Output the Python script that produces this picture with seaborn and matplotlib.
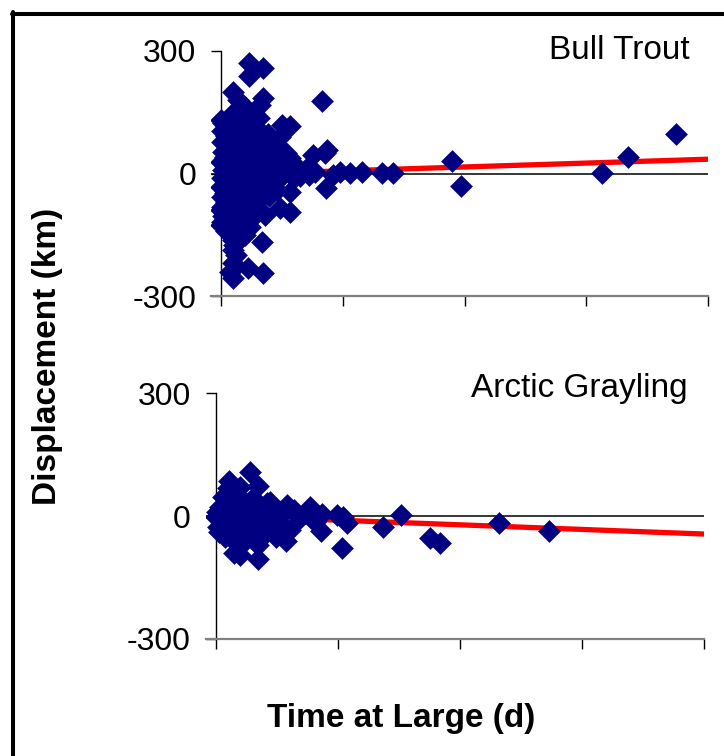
import matplotlib
matplotlib.use("Agg")
import matplotlib.pyplot as plt
import seaborn as sns
import pandas as pd
from matplotlib.lines import Line2D

# ---------------- data ----------------
bt_days = [46, 69, 46, 20, 28, 69, 64, 166, 3, 100, 113, 97, 76, 151, 174, 171, 113, 172,
           212, 232, 265, 283, 195, 184, 138, 130, 154, 120, 105,
           380, 394, 626, 669, 748,
           20, 44, 69, 20, 67, 20, 20, 2, 113, 97, 72, 53, 113, 0, 48, 31, 11, 39, 25, 15,
           0, 2, 1, 4, 0, 3, 1, 0, 2, 1, 3, 0,
           9, 8, 10, 7, 9, 8, 10, 7, 9, 8, 10, 9,
           17, 19, 18, 16, 19, 17, 18, 16, 19, 17, 18, 20, 22,
           28, 27, 29, 26, 30, 28, 27, 29, 26, 28, 30, 27,
           39, 41, 38, 40, 42, 39, 41, 40, 38, 42, 40,
           52, 51, 53, 50, 54, 52, 51, 53, 50, 54, 52,
           63, 65, 64, 62, 66, 64, 63, 65, 62,
           77, 79, 78, 76, 80, 78, 79,
           91, 93, 92, 90, 94, 92,
           106, 104, 107, 122, 119, 141, 144]
bt_disp = [271, 258, 239, 200, 180, 185, 168, 178, 124, 119, 116, 89, 75, 45, 58, 50, 38, -35,
           1, 4, 1, 1, 4, -4, 9, -6, 4, -12, 15,
           31, -31, 1, 40, 97,
           -256, -231, -244, -219, -168, -187, -163, -119, -94, -85, -102, -72, -45, -89, -131, -138, -65, -150, -200, -240,
           132, 104, 78, 52, 28, 8, -12, -33, -57, -82, -103, -127,
           117, 93, 64, 41, 17, -6, -24, -47, -70, -94, -114, -141,
           143, 110, 86, 61, 33, 13, -16, -39, -61, -90, -112, -146, -176,
           152, 127, 97, 71, 47, 23, -1, -26, -52, -74, -99, -121,
           162, 131, 106, 77, 51, 26, 4, -19, -43, -69, -96,
           146, 117, 89, 63, 37, 14, -9, -31, -56, -81, -106,
           136, 101, 71, 44, 21, -2, -21, -44, -64,
           96, 61, 34, 13, -11, -31, -56,
           70, 41, 19, -1, -16, -40,
           51, 26, 5, 21, 2, 11, -3]

ag_days = [56, 22, 69, 69, 30, 39, 206, 172, 274, 304, 351, 367, 115, 464, 546,
           209, 214, 198, 173, 146, 116, 88, 72, 162, 138, 105, 75, 69, 15, 26, 45,
           0, 7, 12, 28, 45, 34, 23, 50, 39, 18, 61, 56, 83, 94, 121, 110, 61, 83,
           4, 28, 56, 80, 99, 31, 20, 39, 9, 154, 2, 14, 5, 36, 48, 66,
           15, 45, 70, 95, 50, 30, 60, 85, 10, 128]
ag_disp = [108, 86, 73, -106, -90, -95, -77, -36, -28, 2, -54, -65, -61, -16, -36,
           -2, -18, 2, 5, 7, 27, 35, 15, -14, -6, -18, -50, -71, -50, -42, -67,
           -2, 23, 47, 55, 39, 23, -2, -2, -18, -26, -26, 23, 7, -26, -34, 7, 43, 31,
           -26, -58, -46, -34, -50, 31, 68, 71, 15, 23, 10, -12, -38, 12, -30, 0,
           10, 10, -10, 5, -40, -20, 0, -15, -35, 14]

trend_x = [0, 800]
bt_trend = [-3, 35]
ag_trend = [1, -44]

x_ticks = [0, 200, 400, 600, 800]
y_ticks = [-300, 0, 300]
y_ticklabels = ["-300", "0", "300"]
panel_titles = ["Bull Trout", "Arctic Grayling"]
ylabel = "Displacement (km)"
xlabel = "Time at Large (d)"

# ---------------- style ----------------
sns.set_theme(style="white")
plt.rcParams["font.family"] = ["Liberation Sans", "DejaVu Sans"]
plt.rcParams["text.color"] = "black"
plt.rcParams["axes.labelcolor"] = "black"
plt.rcParams["xtick.color"] = "black"
plt.rcParams["ytick.color"] = "black"

W, H = 724, 756
fig = plt.figure(figsize=(W / 100, H / 100), dpi=100)
fig.patch.set_facecolor("white")

NAVY = "#000080"


def fx(px):
    return px / W


def fy(py):
    return 1 - py / H


ax_top = fig.add_axes([fx(211), fy(296), fx(708) - fx(211), fy(51) - fy(296)])
ax_bot = fig.add_axes([fx(206), fy(639), fx(704) - fx(206), fy(393) - fy(639)])

panels = [
    (ax_top, bt_days, bt_disp, bt_trend, 487),
    (ax_bot, ag_days, ag_disp, ag_trend, 488),
]

for ax, xs, ys, tr, span in panels:
    df = pd.DataFrame({"days": xs, "disp": ys})
    ax.axhline(0, color="black", lw=1.1, zorder=1)
    sns.lineplot(x=trend_x, y=tr, color="#ff0000", lw=3.8, ax=ax, zorder=2)
    sns.scatterplot(data=df, x="days", y="disp", marker="D", s=125,
                    color=NAVY, edgecolor=NAVY, linewidth=0.4, ax=ax, zorder=3)
    ax.set_xlim(-800 * 10 / span, 800)
    ax.set_ylim(-300, 300)
    ax.set_xlabel("")
    ax.set_ylabel("")
    ax.set_facecolor("none")
    for s in ["top", "right"]:
        ax.spines[s].set_visible(False)
    ax.spines["left"].set_position(("data", 0))
    ax.spines["left"].set_color("black")
    ax.spines["left"].set_linewidth(1.0)
    ax.spines["bottom"].set_color("#808080")
    ax.spines["bottom"].set_linewidth(1.6)
    ax.set_xticks(x_ticks)
    ax.set_xticklabels([])
    ax.set_yticks(y_ticks)
    ax.set_yticklabels(y_ticklabels)
    ax.tick_params(axis="x", direction="out", length=7.5, width=1.0, color="black",
                   bottom=True)
    ax.tick_params(axis="y", direction="out", length=7, width=1.0, color="black",
                   left=True, labelsize=23, pad=11, labelcolor="black")
    ax.grid(False)

fig.text(fx(690), fy(59), panel_titles[0], ha="right", va="baseline", fontsize=24,
         color="black")
fig.text(fx(688), fy(397), panel_titles[1], ha="right", va="baseline", fontsize=24,
         color="black")
fig.text(fx(48), fy(356), ylabel, rotation=90, ha="center", va="center",
         fontsize=24, fontweight="bold", color="black")
fig.text(fx(401), fy(719), xlabel, ha="center", va="center",
         fontsize=24, fontweight="bold", color="black")

# outer frame (left and top edges)
fig.add_artist(Line2D([fx(13), fx(13)], [0, fy(12)], color="black", lw=2.9,
                      transform=fig.transFigure))
fig.add_artist(Line2D([fx(11.5), 1], [fy(13.5), fy(13.5)], color="black", lw=2.9,
                      transform=fig.transFigure))

fig.savefig("out.png", dpi=100, facecolor="white")
